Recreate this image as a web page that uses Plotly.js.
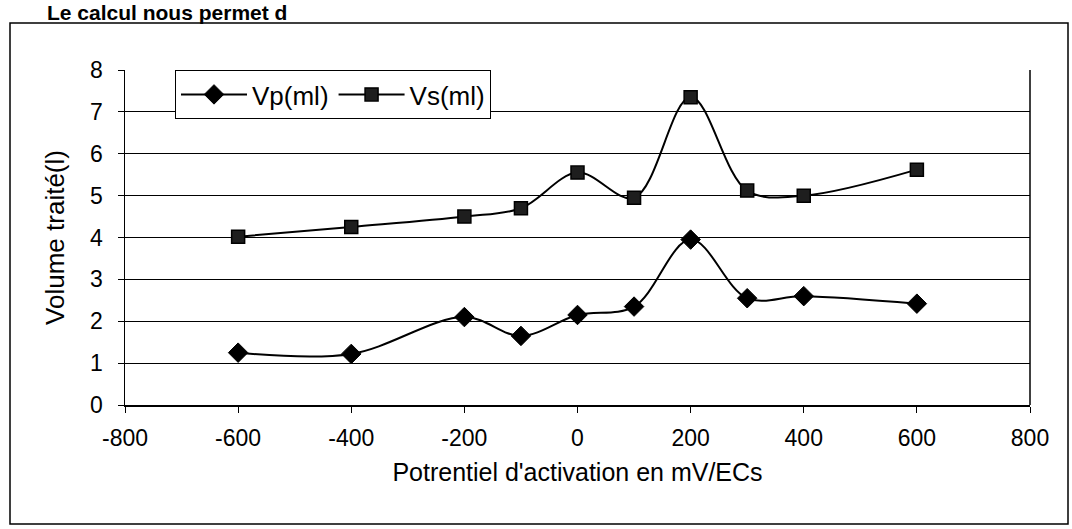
<!DOCTYPE html>
<html>
<head>
<meta charset="utf-8">
<script src="https://cdn.plot.ly/plotly-3.0.1.min.js"></script>
<style>
  html, body { margin: 0; padding: 0; background: #fff; }
  #chart { width: 1072px; height: 529px; }
</style>
</head>
<body>
<div id="chart"></div>
<script>
// ---- data ----
const potentials = [-600, -400, -200, -100, 0, 100, 200, 300, 400, 600];
const vp = [1.25, 1.22, 2.1, 1.65, 2.15, 2.35, 3.95, 2.55, 2.6, 2.42];
const vs = [4.02, 4.25, 4.5, 4.7, 5.55, 4.95, 7.35, 5.12, 5.0, 5.62];
const seriesNames = ["Vp(ml)", "Vs(ml)"];
const xTickValues = [-800, -600, -400, -200, 0, 200, 400, 600, 800];
const xTickLabels = ["-800", "-600", "-400", "-200", "0", "200", "400", "600", "800"];
const yTickValues = [0, 1, 2, 3, 4, 5, 6, 7, 8];
const yTickLabels = ["0", "1", "2", "3", "4", "5", "6", "7", "8"];
const xTitle = "Potrentiel d'activation en mV/ECs";
const yTitle = "Volume traité(l)";
const pageText = "Le calcul nous permet d";

// ---- layout geometry (pixels) ----
const W = 1072, H = 529;
const L = 125, R = 1030, T = 70, B = 405;
const pw = R - L, ph = B - T;
const px = x => (x - L) / pw;
const py = y => (B - y) / ph;

const font = "Liberation Sans, Arial, sans-serif";

const traces = [
  {
    x: potentials, y: vp, name: seriesNames[0], type: "scatter", mode: "lines+markers",
    line: { color: "#000", width: 2, shape: "spline", smoothing: 1 },
    marker: { symbol: "diamond", size: 15, color: "#000", line: { color: "#000", width: 1 } }
  },
  {
    x: potentials, y: vs, name: seriesNames[1], type: "scatter", mode: "lines+markers",
    line: { color: "#000", width: 2, shape: "spline", smoothing: 1 },
    marker: { symbol: "square", size: 13, color: "#1e1e1e", line: { color: "#000", width: 1.5 } }
  }
];

const layout = {
  width: W, height: H,
  margin: { l: L, r: W - R, t: T, b: H - B },
  paper_bgcolor: "#fff", plot_bgcolor: "#fff",
  font: { family: font, color: "#000", size: 23 },
  showlegend: true,
  legend: {
    x: px(175), y: py(70), xanchor: "left", yanchor: "top",
    orientation: "h", bgcolor: "#fff", bordercolor: "#000", borderwidth: 1,
    font: { family: font, size: 26, color: "#000" },
    itemwidth: 66, tracegroupgap: 0
  },
  xaxis: {
    range: [-800, 800],
    tickmode: "array", tickvals: xTickValues, ticktext: xTickLabels,
    showgrid: false, zeroline: false,
    showline: true, linecolor: "#000", linewidth: 1.5,
    ticks: "outside", ticklen: 6, tickcolor: "#000",
    ticklabelstandoff: 6,
    tickfont: { family: font, size: 23, color: "#000" },
    title: { text: xTitle, font: { family: font, size: 25, color: "#000" }, standoff: 13 }
  },
  yaxis: {
    range: [0, 8],
    tickmode: "array", tickvals: yTickValues, ticktext: yTickLabels,
    showgrid: true, gridcolor: "#000", gridwidth: 1,
    zeroline: false,
    showline: true, linecolor: "#000", linewidth: 1.5,
    ticks: "outside", ticklen: 6, tickcolor: "#000",
    ticklabelstandoff: 10,
    tickfont: { family: font, size: 23, color: "#000" },
    title: { text: yTitle, font: { family: font, size: 26, color: "#000" }, standoff: 18 }
  },
  shapes: [
    // right edge of the plot area
    { type: "line", xref: "paper", yref: "paper", x0: 1, x1: 1, y0: 0, y1: 1,
      line: { color: "#000", width: 1.5 } },
    // outer chart frame
    { type: "rect", xref: "paper", yref: "paper",
      x0: px(10), x1: px(1068), y0: py(524), y1: py(23),
      line: { color: "#000", width: 1.5 }, fillcolor: "rgba(0,0,0,0)", layer: "below" }
  ],
  annotations: [
    { text: pageText, xref: "paper", yref: "paper", x: px(45), y: py(-1),
      xanchor: "left", yanchor: "top", showarrow: false,
      font: { family: font, size: 21, color: "#000", weight: "bold" } }
  ]
};

Plotly.newPlot("chart", traces, layout, { staticPlot: true, displayModeBar: false });
</script>
</body>
</html>
